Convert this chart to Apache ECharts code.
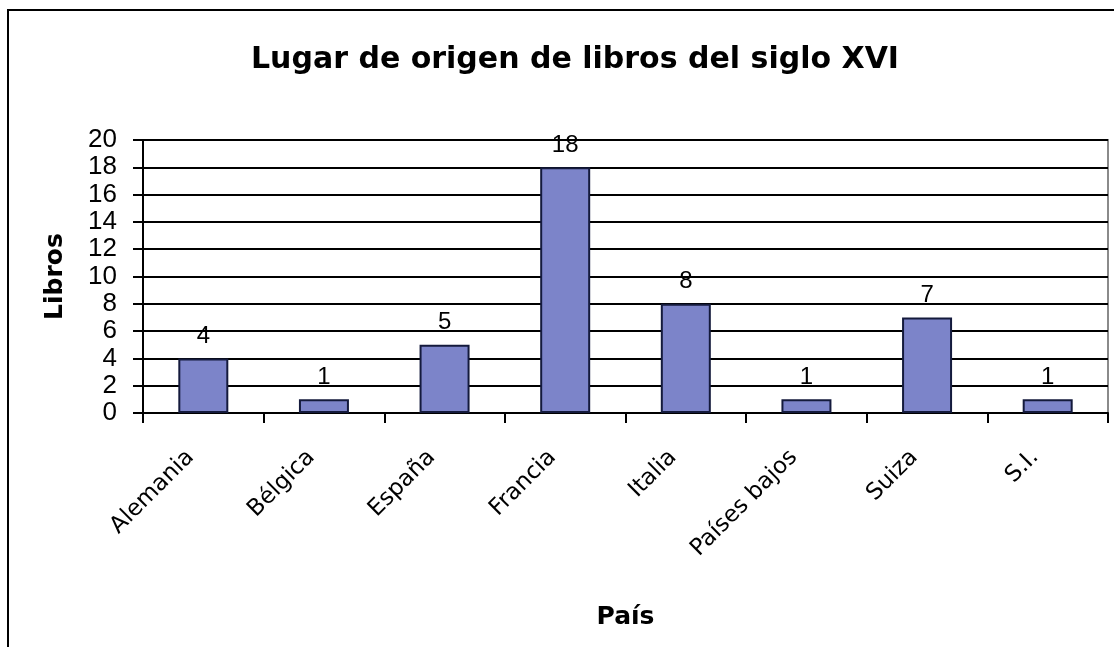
<!DOCTYPE html>
<html>
<head>
<meta charset="utf-8">
<title>Lugar de origen de libros del siglo XVI</title>
<script src="https://cdn.jsdelivr.net/npm/echarts@6/dist/echarts.min.js"></script>
<style>
  html, body { margin: 0; padding: 0; background: #fff; }
  #chart { width: 1114px; height: 647px; }
</style>
</head>
<body>
<div id="chart"></div>
<script>
// datos del grafico
var paises = ['Alemania', 'Bélgica', 'España', 'Francia', 'Italia', 'Países bajos', 'Suiza', 'S.I.'];
var libros = [4, 1, 5, 18, 8, 1, 7, 1];

var myChart = echarts.init(document.getElementById('chart'));

option = {
    backgroundColor: '#ffffff',
    animation: false,
    title: {
        text: 'Lugar de origen de libros del siglo XVI',
        left: 570,
        top: 40,
        textAlign: 'center',
        textStyle: {
            fontFamily: 'DejaVu Sans',
            fontSize: 30,
            fontWeight: 'bold',
            color: '#000'
        }
    },
    graphic: [
        {
            type: 'rect',
            shape: { x: 8, y: 10, width: 1200, height: 700 },
            style: { fill: 'none', stroke: '#000', lineWidth: 2 },
            silent: true
        }
    ],
    grid: {
        left: 143,
        right: 6,
        top: 140,
        bottom: 234,
        show: true,
        borderColor: '#8a8a8a',
        borderWidth: 2
    },
    xAxis: {
        type: 'category',
        data: paises,
        name: 'País',
        nameLocation: 'middle',
        nameGap: 192,
        nameTextStyle: {
            fontFamily: 'DejaVu Sans',
            fontSize: 25,
            fontWeight: 'bold',
            color: '#000'
        },
        axisLine: { lineStyle: { color: '#000', width: 2 } },
        axisTick: { show: true, length: 10, lineStyle: { color: '#000', width: 2 } },
        axisLabel: {
            rotate: 45,
            margin: 28,
            padding: [0, 18, 0, 0],
            fontFamily: 'DejaVu Sans',
            fontSize: 23,
            color: '#000'
        }
    },
    yAxis: {
        type: 'value',
        min: 0,
        max: 20,
        interval: 2,
        name: 'Libros',
        nameLocation: 'middle',
        nameGap: 75,
        nameTextStyle: {
            fontFamily: 'DejaVu Sans',
            fontSize: 25,
            fontWeight: 'bold',
            color: '#000'
        },
        axisLine: { show: true, lineStyle: { color: '#000', width: 2 } },
        axisTick: { show: true, length: 10, lineStyle: { color: '#000', width: 2 } },
        axisLabel: {
            margin: 26,
            fontFamily: 'Liberation Sans Narrow, Liberation Sans',
            fontSize: 26,
            color: '#000'
        },
        splitLine: { show: true, lineStyle: { color: '#000', width: 2 } }
    },
    series: [
        {
            name: 'Libros',
            type: 'bar',
            data: libros,
            barWidth: 50,
            itemStyle: {
                color: '#7c84c9',
                borderColor: '#141a3c',
                borderWidth: 2
            },
            label: {
                show: true,
                position: 'top',
                distance: 10,
                fontFamily: 'Liberation Sans',
                fontSize: 24,
                color: '#000'
            }
        }
    ]
};

myChart.setOption(option);
</script>
</body>
</html>
